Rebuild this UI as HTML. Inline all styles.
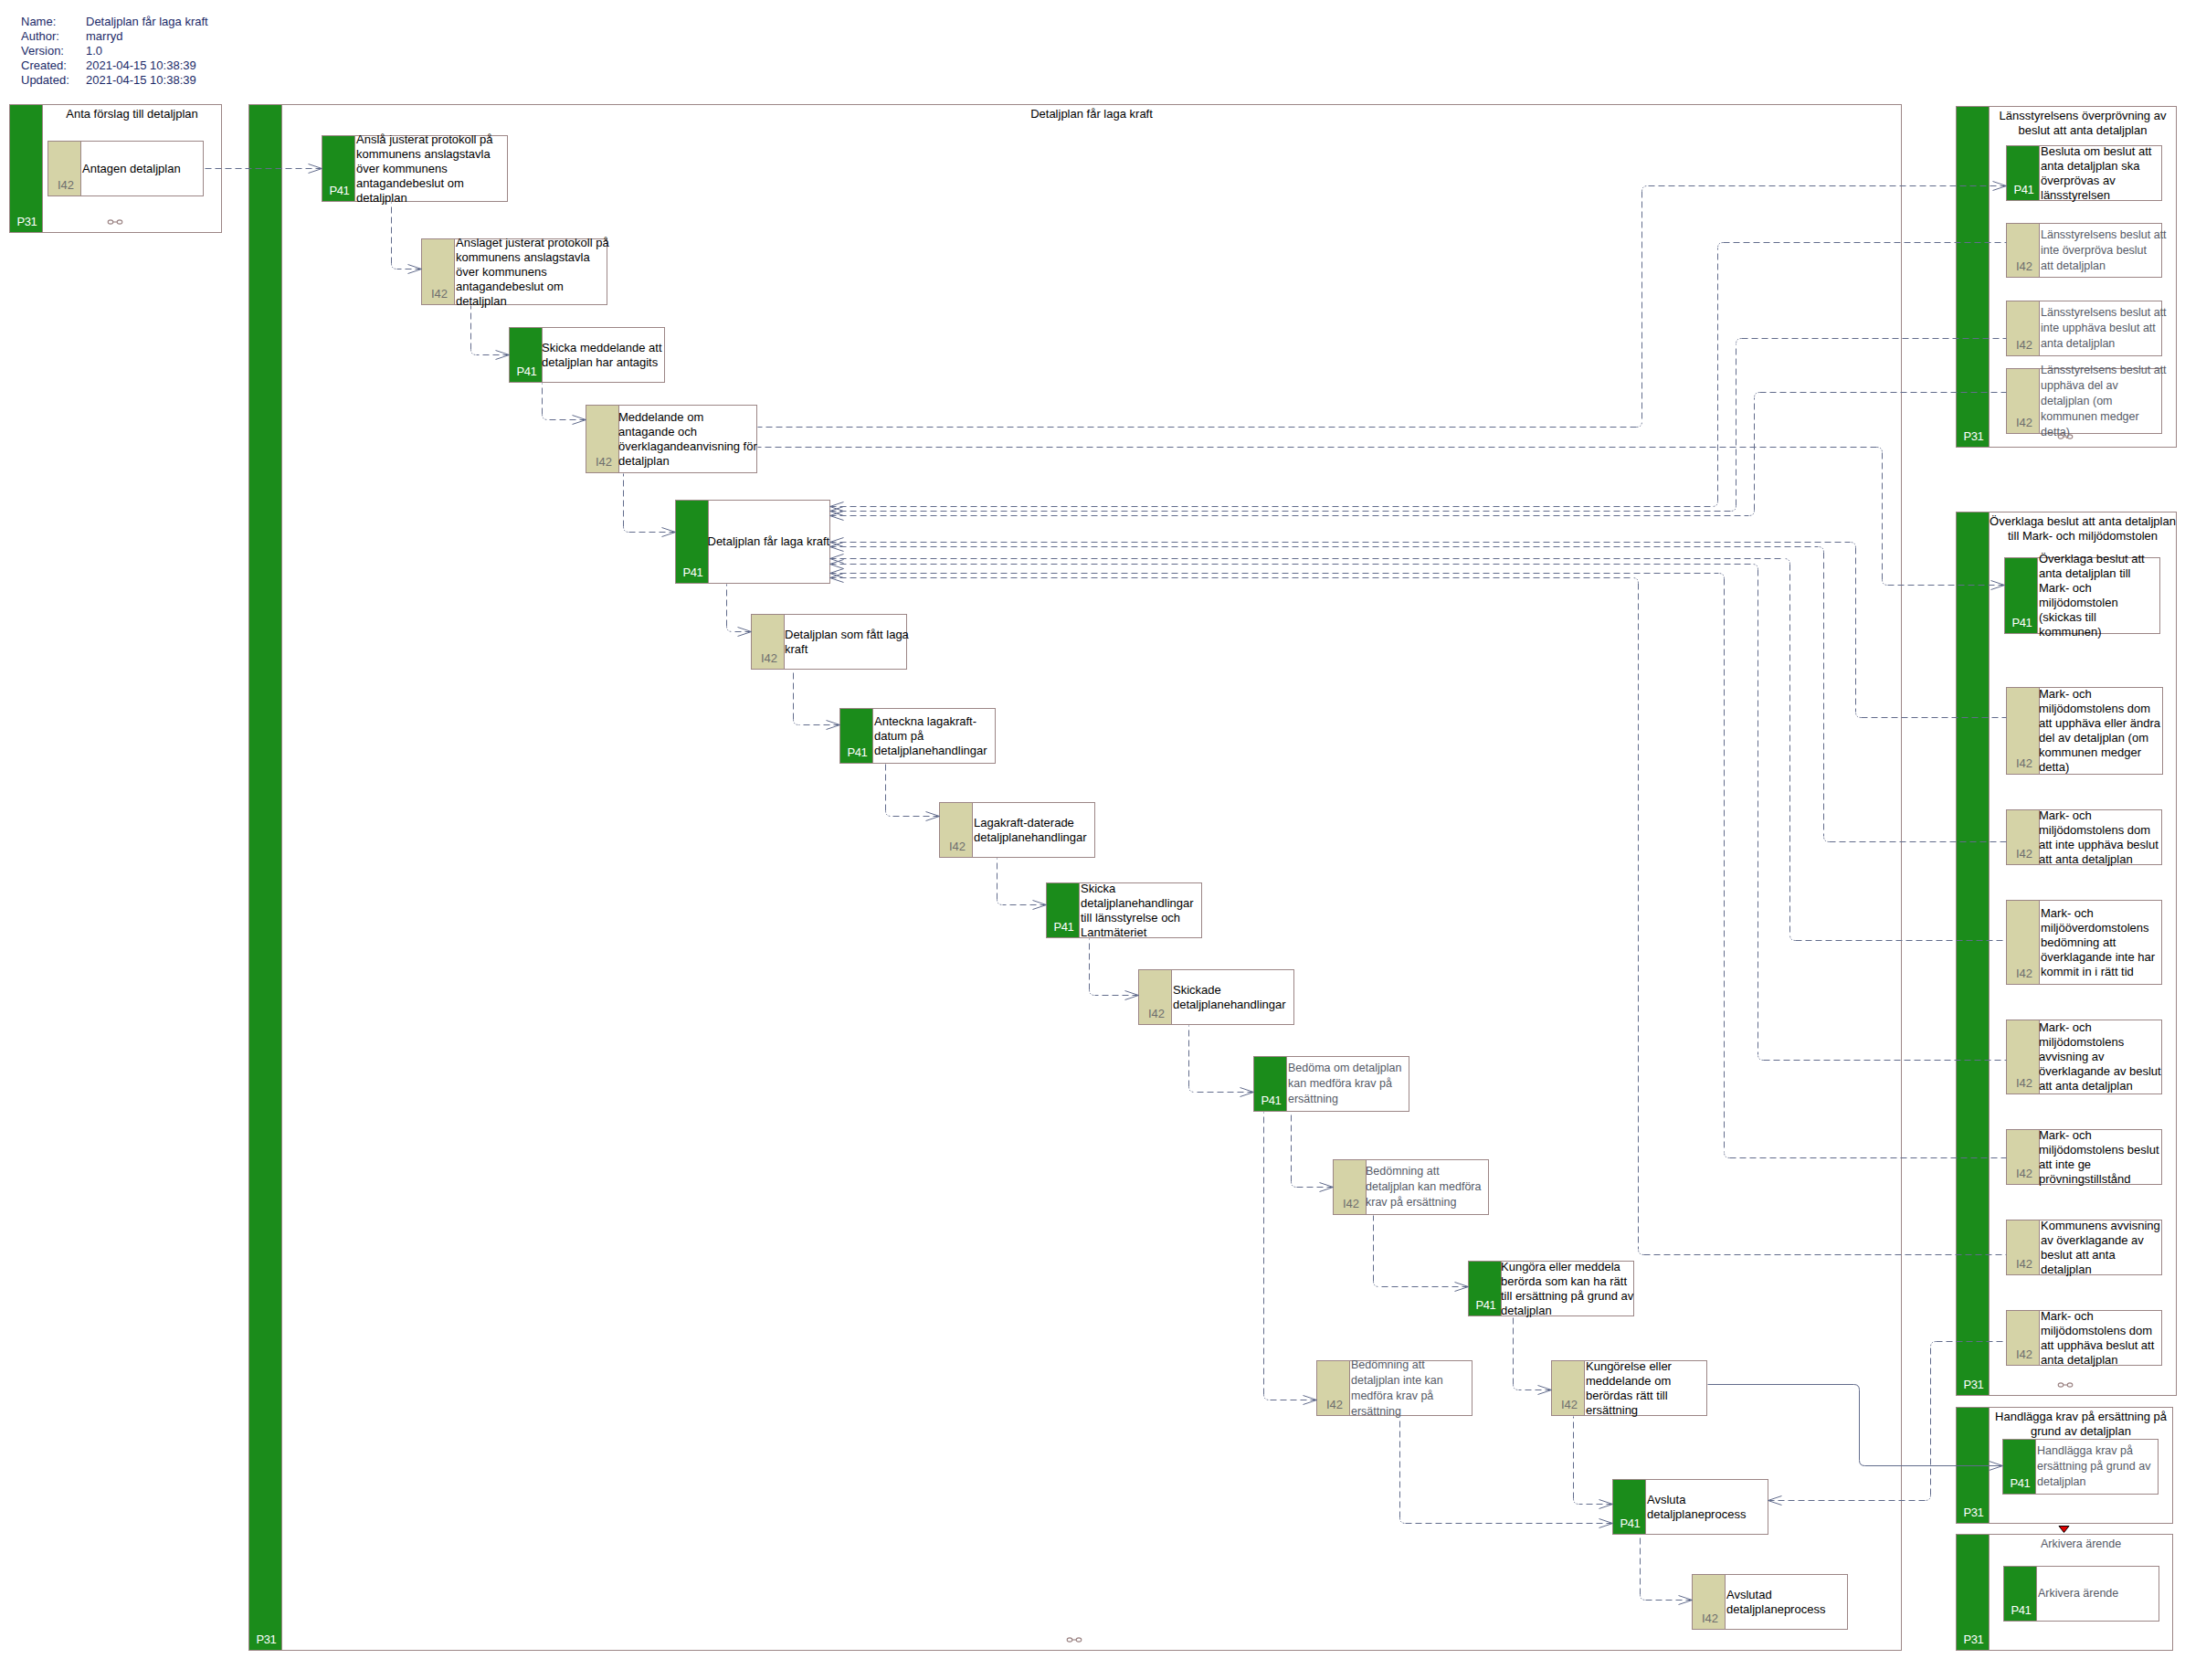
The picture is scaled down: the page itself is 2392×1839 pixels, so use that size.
<!DOCTYPE html><html><head><meta charset="utf-8"><style>
html,body{margin:0;padding:0;background:#fff;}
body{width:2392px;height:1839px;position:relative;overflow:hidden;font-family:"Liberation Sans",sans-serif;font-size:13px;color:#000;}
.a{position:absolute;}
.ct{position:absolute;box-sizing:border-box;border:1px solid #9c8686;background:#fff;}
.bar{position:absolute;left:0;top:0;bottom:0;width:36px;box-sizing:border-box;border-right:1px solid #9c8686;}
.g{background:#1b8c1b;}
.k{background:#d5d3a7;}
.tx{position:absolute;top:0;bottom:0;right:-200px;display:flex;align-items:center;white-space:pre;line-height:16px;font-size:13px;color:#000;}
.tx.c{font-size:12.5px;line-height:17px;color:#555a66;}
.ttl{position:absolute;left:36px;right:0;text-align:center;white-space:pre;line-height:16px;}
.ttl.c{font-size:12.5px;line-height:17px;color:#555a66;}
.lw{position:absolute;color:#fff;line-height:16px;white-space:pre;}
.lg{position:absolute;color:#6e6e6e;line-height:16px;white-space:pre;}
.hd{position:absolute;line-height:16px;color:#1b2a68;white-space:pre;}

</style></head><body>
<div class="hd" style="left:23px;top:16px">Name:</div>
<div class="hd" style="left:94px;top:16px">Detaljplan får laga kraft</div>
<div class="hd" style="left:23px;top:32px">Author:</div>
<div class="hd" style="left:94px;top:32px">marryd</div>
<div class="hd" style="left:23px;top:48px">Version:</div>
<div class="hd" style="left:94px;top:48px">1.0</div>
<div class="hd" style="left:23px;top:64px">Created:</div>
<div class="hd" style="left:94px;top:64px">2021-04-15 10:38:39</div>
<div class="hd" style="left:23px;top:80px">Updated:</div>
<div class="hd" style="left:94px;top:80px">2021-04-15 10:38:39</div>
<div class="ct" style="left:10px;top:114px;width:233px;height:141px">
<div class="bar g"></div>
<div class="ttl" style="top:2px">Anta förslag till detaljplan</div>
<div class="lw" style="left:7.5px;top:120px;letter-spacing:-0.5px">P31</div>
</div>
<div class="ct" style="left:272px;top:114px;width:1810px;height:1693px">
<div class="bar g"></div>
<div class="ttl" style="top:2px">Detaljplan får laga kraft</div>
<div class="lw" style="left:7.5px;top:1672px;letter-spacing:-0.5px">P31</div>
</div>
<div class="ct" style="left:2141px;top:116px;width:242px;height:374px">
<div class="bar g"></div>
<div class="ttl" style="top:2px">Länsstyrelsens överprövning av
beslut att anta detaljplan</div>
<div class="lw" style="left:7.5px;top:353px;letter-spacing:-0.5px">P31</div>
</div>
<div class="ct" style="left:2141px;top:560px;width:242px;height:968px">
<div class="bar g"></div>
<div class="ttl" style="top:2px">Överklaga beslut att anta detaljplan
till Mark- och miljödomstolen</div>
<div class="lw" style="left:7.5px;top:947px;letter-spacing:-0.5px">P31</div>
</div>
<div class="ct" style="left:2141px;top:1540px;width:238px;height:128px">
<div class="bar g"></div>
<div class="ttl" style="top:2px">Handlägga krav på ersättning på
grund av detaljplan</div>
<div class="lw" style="left:7.5px;top:107px;letter-spacing:-0.5px">P31</div>
</div>
<div class="ct" style="left:2141px;top:1679px;width:238px;height:128px">
<div class="bar g"></div>
<div class="ttl c" style="top:2px">Arkivera ärende</div>
<div class="lw" style="left:7.5px;top:107px;letter-spacing:-0.5px">P31</div>
</div>
<div class="ct" style="left:52px;top:154px;width:171px;height:61px">
<div class="bar k"></div>
<div class="lg" style="left:10px;top:40px">I42</div>
<div class="tx" style="left:37.0px"><div>Antagen detaljplan</div></div>
</div>
<div class="ct" style="left:352px;top:148px;width:204px;height:73px">
<div class="bar g"></div>
<div class="lw" style="left:7.5px;top:52px;letter-spacing:-0.5px">P41</div>
<div class="tx" style="left:37.0px"><div>Anslå justerat protokoll på
kommunens anslagstavla
över kommunens
antagandebeslut om
detaljplan</div></div>
</div>
<div class="ct" style="left:461px;top:261px;width:204px;height:73px">
<div class="bar k"></div>
<div class="lg" style="left:10px;top:52px">I42</div>
<div class="tx" style="left:37.0px"><div>Anslaget justerat protokoll på
kommunens anslagstavla
över kommunens
antagandebeslut om
detaljplan</div></div>
</div>
<div class="ct" style="left:557px;top:358px;width:171px;height:61px">
<div class="bar g"></div>
<div class="lw" style="left:7.5px;top:40px;letter-spacing:-0.5px">P41</div>
<div class="tx" style="left:35.0px"><div>Skicka meddelande att
detaljplan har antagits</div></div>
</div>
<div class="ct" style="left:641px;top:443px;width:188px;height:75px">
<div class="bar k"></div>
<div class="lg" style="left:10px;top:54px">I42</div>
<div class="tx" style="left:35.0px"><div>Meddelande om
antagande och
överklagandeanvisning för
detaljplan</div></div>
</div>
<div class="ct" style="left:739px;top:547px;width:170px;height:92px">
<div class="bar g"></div>
<div class="lw" style="left:7.5px;top:71px;letter-spacing:-0.5px">P41</div>
<div class="tx" style="left:34.5px"><div>Detaljplan får laga kraft</div></div>
</div>
<div class="ct" style="left:822px;top:672px;width:171px;height:61px">
<div class="bar k"></div>
<div class="lg" style="left:10px;top:40px">I42</div>
<div class="tx" style="left:36.0px"><div>Detaljplan som fått laga
kraft</div></div>
</div>
<div class="ct" style="left:919px;top:775px;width:171px;height:61px">
<div class="bar g"></div>
<div class="lw" style="left:7.5px;top:40px;letter-spacing:-0.5px">P41</div>
<div class="tx" style="left:37.0px"><div>Anteckna lagakraft-
datum på
detaljplanehandlingar</div></div>
</div>
<div class="ct" style="left:1028px;top:878px;width:171px;height:61px">
<div class="bar k"></div>
<div class="lg" style="left:10px;top:40px">I42</div>
<div class="tx" style="left:37.0px"><div>Lagakraft-daterade
detaljplanehandlingar</div></div>
</div>
<div class="ct" style="left:1145px;top:966px;width:171px;height:61px">
<div class="bar g"></div>
<div class="lw" style="left:7.5px;top:40px;letter-spacing:-0.5px">P41</div>
<div class="tx" style="left:37.0px"><div>Skicka
detaljplanehandlingar
till länsstyrelse och
Lantmäteriet</div></div>
</div>
<div class="ct" style="left:1246px;top:1061px;width:171px;height:61px">
<div class="bar k"></div>
<div class="lg" style="left:10px;top:40px">I42</div>
<div class="tx" style="left:37.0px"><div>Skickade
detaljplanehandlingar</div></div>
</div>
<div class="ct" style="left:1372px;top:1156px;width:171px;height:61px">
<div class="bar g"></div>
<div class="lw" style="left:7.5px;top:40px;letter-spacing:-0.5px">P41</div>
<div class="tx c" style="left:37.0px"><div>Bedöma om detaljplan
kan medföra krav på
ersättning</div></div>
</div>
<div class="ct" style="left:1459px;top:1269px;width:171px;height:61px">
<div class="bar k"></div>
<div class="lg" style="left:10px;top:40px">I42</div>
<div class="tx c" style="left:35.0px"><div>Bedömning att
detaljplan kan medföra
krav på ersättning</div></div>
</div>
<div class="ct" style="left:1607px;top:1380px;width:182px;height:61px">
<div class="bar g"></div>
<div class="lw" style="left:7.5px;top:40px;letter-spacing:-0.5px">P41</div>
<div class="tx" style="left:35.0px"><div>Kungöra eller meddela
berörda som kan ha rätt
till ersättning på grund av
detaljplan</div></div>
</div>
<div class="ct" style="left:1698px;top:1489px;width:171px;height:61px">
<div class="bar k"></div>
<div class="lg" style="left:10px;top:40px">I42</div>
<div class="tx" style="left:37.0px"><div>Kungörelse eller
meddelande om
berördas rätt till
ersättning</div></div>
</div>
<div class="ct" style="left:1765px;top:1619px;width:171px;height:61px">
<div class="bar g"></div>
<div class="lw" style="left:7.5px;top:40px;letter-spacing:-0.5px">P41</div>
<div class="tx" style="left:37.0px"><div>Avsluta
detaljplaneprocess</div></div>
</div>
<div class="ct" style="left:1441px;top:1489px;width:171px;height:61px">
<div class="bar k"></div>
<div class="lg" style="left:10px;top:40px">I42</div>
<div class="tx c" style="left:37.0px"><div>Bedömning att
detaljplan inte kan
medföra krav på
ersättning</div></div>
</div>
<div class="ct" style="left:1852px;top:1723px;width:171px;height:61px">
<div class="bar k"></div>
<div class="lg" style="left:10px;top:40px">I42</div>
<div class="tx" style="left:37.0px"><div>Avslutad
detaljplaneprocess</div></div>
</div>
<div class="ct" style="left:2196px;top:159px;width:171px;height:61px">
<div class="bar g"></div>
<div class="lw" style="left:7.5px;top:40px;letter-spacing:-0.5px">P41</div>
<div class="tx" style="left:37.0px"><div>Besluta om beslut att
anta detaljplan ska
överprövas av
länsstyrelsen</div></div>
</div>
<div class="ct" style="left:2196px;top:244px;width:171px;height:60px">
<div class="bar k"></div>
<div class="lg" style="left:10px;top:39px">I42</div>
<div class="tx c" style="left:37.0px"><div>Länsstyrelsens beslut att
inte överpröva beslut
att detaljplan</div></div>
</div>
<div class="ct" style="left:2196px;top:329px;width:171px;height:61px">
<div class="bar k"></div>
<div class="lg" style="left:10px;top:40px">I42</div>
<div class="tx c" style="left:37.0px"><div>Länsstyrelsens beslut att
inte upphäva beslut att
anta detaljplan</div></div>
</div>
<div class="ct" style="left:2196px;top:403px;width:171px;height:72px">
<div class="bar k"></div>
<div class="lg" style="left:10px;top:51px">I42</div>
<div class="tx c" style="left:37.0px"><div>Länsstyrelsens beslut att
upphäva del av
detaljplan (om
kommunen medger
detta)</div></div>
</div>
<div class="ct" style="left:2194px;top:610px;width:171px;height:84px">
<div class="bar g"></div>
<div class="lw" style="left:7.5px;top:63px;letter-spacing:-0.5px">P41</div>
<div class="tx" style="left:37.0px"><div>Överklaga beslut att
anta detaljplan till
Mark- och
miljödomstolen
(skickas till
kommunen)</div></div>
</div>
<div class="ct" style="left:2196px;top:752px;width:172px;height:96px">
<div class="bar k"></div>
<div class="lg" style="left:10px;top:75px">I42</div>
<div class="tx" style="left:35.0px"><div>Mark- och
miljödomstolens dom
att upphäva eller ändra
del av detaljplan (om
kommunen medger
detta)</div></div>
</div>
<div class="ct" style="left:2196px;top:886px;width:171px;height:61px">
<div class="bar k"></div>
<div class="lg" style="left:10px;top:40px">I42</div>
<div class="tx" style="left:35.0px"><div>Mark- och
miljödomstolens dom
att inte upphäva beslut
att anta detaljplan</div></div>
</div>
<div class="ct" style="left:2196px;top:985px;width:171px;height:93px">
<div class="bar k"></div>
<div class="lg" style="left:10px;top:72px">I42</div>
<div class="tx" style="left:37.0px"><div>Mark- och
miljööverdomstolens
bedömning att
överklagande inte har
kommit in i rätt tid</div></div>
</div>
<div class="ct" style="left:2196px;top:1116px;width:171px;height:82px">
<div class="bar k"></div>
<div class="lg" style="left:10px;top:61px">I42</div>
<div class="tx" style="left:35.0px"><div>Mark- och
miljödomstolens
avvisning av
överklagande av beslut
att anta detaljplan</div></div>
</div>
<div class="ct" style="left:2196px;top:1236px;width:171px;height:61px">
<div class="bar k"></div>
<div class="lg" style="left:10px;top:40px">I42</div>
<div class="tx" style="left:35.0px"><div>Mark- och
miljödomstolens beslut
att inte ge
prövningstillstånd</div></div>
</div>
<div class="ct" style="left:2196px;top:1335px;width:171px;height:61px">
<div class="bar k"></div>
<div class="lg" style="left:10px;top:40px">I42</div>
<div class="tx" style="left:37.0px"><div>Kommunens avvisning
av överklagande av
beslut att anta
detaljplan</div></div>
</div>
<div class="ct" style="left:2196px;top:1434px;width:171px;height:61px">
<div class="bar k"></div>
<div class="lg" style="left:10px;top:40px">I42</div>
<div class="tx" style="left:37.0px"><div>Mark- och
miljödomstolens dom
att upphäva beslut att
anta detaljplan</div></div>
</div>
<div class="ct" style="left:2192px;top:1575px;width:171px;height:61px">
<div class="bar g"></div>
<div class="lw" style="left:7.5px;top:40px;letter-spacing:-0.5px">P41</div>
<div class="tx c" style="left:37.0px"><div>Handlägga krav på
ersättning på grund av
detaljplan</div></div>
</div>
<div class="ct" style="left:2193px;top:1714px;width:171px;height:61px">
<div class="bar g"></div>
<div class="lw" style="left:7.5px;top:40px;letter-spacing:-0.5px">P41</div>
<div class="tx c" style="left:37.0px"><div>Arkivera ärende</div></div>
</div>
<svg class="a" style="left:0;top:0" width="2392" height="1839">
<g fill="none" stroke="#626c8c" stroke-width="1">
<path d="M352.5 184.5L224.5 184.5" stroke-dasharray="7 4"/>
<path d="M337.5 179.5 L352.5 184.5 L337.5 189.5"/>
<path d="M461.5 294.5L434.5 294.5" stroke-dasharray="7 4"/>
<path d="M428.5 288.5L428.5 221.5" stroke-dasharray="7 4"/>
<path d="M434.5 294.5Q428.5 294.5 428.5 288.5" stroke-dasharray="1.6 1.8" stroke-dashoffset="-1"/>
<path d="M446.5 289.5 L461.5 294.5 L446.5 299.5"/>
<path d="M557.5 388.5L521.5 388.5" stroke-dasharray="7 4"/>
<path d="M515.5 382.5L515.5 334.5" stroke-dasharray="7 4"/>
<path d="M521.5 388.5Q515.5 388.5 515.5 382.5" stroke-dasharray="1.6 1.8" stroke-dashoffset="-1"/>
<path d="M542.5 383.5 L557.5 388.5 L542.5 393.5"/>
<path d="M641.5 459.5L599.5 459.5" stroke-dasharray="7 4"/>
<path d="M593.5 453.5L593.5 419.5" stroke-dasharray="7 4"/>
<path d="M599.5 459.5Q593.5 459.5 593.5 453.5" stroke-dasharray="1.6 1.8" stroke-dashoffset="-1"/>
<path d="M626.5 454.5 L641.5 459.5 L626.5 464.5"/>
<path d="M739.5 582.5L688.5 582.5" stroke-dasharray="7 4"/>
<path d="M682.5 576.5L682.5 518.5" stroke-dasharray="7 4"/>
<path d="M688.5 582.5Q682.5 582.5 682.5 576.5" stroke-dasharray="1.6 1.8" stroke-dashoffset="-1"/>
<path d="M724.5 577.5 L739.5 582.5 L724.5 587.5"/>
<path d="M822.5 691.5L801.5 691.5" stroke-dasharray="7 4"/>
<path d="M795.5 685.5L795.5 639.5" stroke-dasharray="7 4"/>
<path d="M801.5 691.5Q795.5 691.5 795.5 685.5" stroke-dasharray="1.6 1.8" stroke-dashoffset="-1"/>
<path d="M807.5 686.5 L822.5 691.5 L807.5 696.5"/>
<path d="M919.5 793.5L874.5 793.5" stroke-dasharray="7 4"/>
<path d="M868.5 787.5L868.5 734.5" stroke-dasharray="7 4"/>
<path d="M874.5 793.5Q868.5 793.5 868.5 787.5" stroke-dasharray="1.6 1.8" stroke-dashoffset="-1"/>
<path d="M904.5 788.5 L919.5 793.5 L904.5 798.5"/>
<path d="M1028.5 893.5L975.5 893.5" stroke-dasharray="7 4"/>
<path d="M969.5 887.5L969.5 836.5" stroke-dasharray="7 4"/>
<path d="M975.5 893.5Q969.5 893.5 969.5 887.5" stroke-dasharray="1.6 1.8" stroke-dashoffset="-1"/>
<path d="M1013.5 888.5 L1028.5 893.5 L1013.5 898.5"/>
<path d="M1145.5 990.5L1097.5 990.5" stroke-dasharray="7 4"/>
<path d="M1091.5 984.5L1091.5 939.5" stroke-dasharray="7 4"/>
<path d="M1097.5 990.5Q1091.5 990.5 1091.5 984.5" stroke-dasharray="1.6 1.8" stroke-dashoffset="-1"/>
<path d="M1130.5 985.5 L1145.5 990.5 L1130.5 995.5"/>
<path d="M1246.5 1089.5L1198.5 1089.5" stroke-dasharray="7 4"/>
<path d="M1192.5 1083.5L1192.5 1027.5" stroke-dasharray="7 4"/>
<path d="M1198.5 1089.5Q1192.5 1089.5 1192.5 1083.5" stroke-dasharray="1.6 1.8" stroke-dashoffset="-1"/>
<path d="M1231.5 1084.5 L1246.5 1089.5 L1231.5 1094.5"/>
<path d="M1372.5 1195.5L1307.5 1195.5" stroke-dasharray="7 4"/>
<path d="M1301.5 1189.5L1301.5 1122.5" stroke-dasharray="7 4"/>
<path d="M1307.5 1195.5Q1301.5 1195.5 1301.5 1189.5" stroke-dasharray="1.6 1.8" stroke-dashoffset="-1"/>
<path d="M1357.5 1190.5 L1372.5 1195.5 L1357.5 1200.5"/>
<path d="M1459.5 1299.5L1419.5 1299.5" stroke-dasharray="7 4"/>
<path d="M1413.5 1293.5L1413.5 1219.5" stroke-dasharray="7 4"/>
<path d="M1419.5 1299.5Q1413.5 1299.5 1413.5 1293.5" stroke-dasharray="1.6 1.8" stroke-dashoffset="-1"/>
<path d="M1444.5 1294.5 L1459.5 1299.5 L1444.5 1304.5"/>
<path d="M1441.5 1532.5L1389.5 1532.5" stroke-dasharray="7 4"/>
<path d="M1383.5 1526.5L1383.5 1217.5" stroke-dasharray="7 4"/>
<path d="M1389.5 1532.5Q1383.5 1532.5 1383.5 1526.5" stroke-dasharray="1.6 1.8" stroke-dashoffset="-1"/>
<path d="M1426.5 1527.5 L1441.5 1532.5 L1426.5 1537.5"/>
<path d="M1607.5 1408.5L1509.5 1408.5" stroke-dasharray="7 4"/>
<path d="M1503.5 1402.5L1503.5 1330.5" stroke-dasharray="7 4"/>
<path d="M1509.5 1408.5Q1503.5 1408.5 1503.5 1402.5" stroke-dasharray="1.6 1.8" stroke-dashoffset="-1"/>
<path d="M1592.5 1403.5 L1607.5 1408.5 L1592.5 1413.5"/>
<path d="M1698.5 1521.5L1662.5 1521.5" stroke-dasharray="7 4"/>
<path d="M1656.5 1515.5L1656.5 1441.5" stroke-dasharray="7 4"/>
<path d="M1662.5 1521.5Q1656.5 1521.5 1656.5 1515.5" stroke-dasharray="1.6 1.8" stroke-dashoffset="-1"/>
<path d="M1683.5 1516.5 L1698.5 1521.5 L1683.5 1526.5"/>
<path d="M1765.5 1646.5L1728.5 1646.5" stroke-dasharray="7 4"/>
<path d="M1722.5 1640.5L1722.5 1550.5" stroke-dasharray="7 4"/>
<path d="M1728.5 1646.5Q1722.5 1646.5 1722.5 1640.5" stroke-dasharray="1.6 1.8" stroke-dashoffset="-1"/>
<path d="M1750.5 1641.5 L1765.5 1646.5 L1750.5 1651.5"/>
<path d="M1765.5 1667.5L1538.5 1667.5" stroke-dasharray="7 4"/>
<path d="M1532.5 1661.5L1532.5 1551.5" stroke-dasharray="7 4"/>
<path d="M1538.5 1667.5Q1532.5 1667.5 1532.5 1661.5" stroke-dasharray="1.6 1.8" stroke-dashoffset="-1"/>
<path d="M1750.5 1662.5 L1765.5 1667.5 L1750.5 1672.5"/>
<path d="M1852.5 1751.5L1801.5 1751.5" stroke-dasharray="7 4"/>
<path d="M1795.5 1745.5L1795.5 1681.5" stroke-dasharray="7 4"/>
<path d="M1801.5 1751.5Q1795.5 1751.5 1795.5 1745.5" stroke-dasharray="1.6 1.8" stroke-dashoffset="-1"/>
<path d="M1837.5 1746.5 L1852.5 1751.5 L1837.5 1756.5"/>
<path d="M2196.5 203.5L1803.5 203.5" stroke-dasharray="7 4"/>
<path d="M1797.5 209.5L1797.5 461.5" stroke-dasharray="7 4"/>
<path d="M1791.5 467.5L829.5 467.5" stroke-dasharray="7 4"/>
<path d="M1803.5 203.5Q1797.5 203.5 1797.5 209.5" stroke-dasharray="1.6 1.8" stroke-dashoffset="-1"/>
<path d="M1797.5 461.5Q1797.5 467.5 1791.5 467.5" stroke-dasharray="1.6 1.8" stroke-dashoffset="-1"/>
<path d="M2181.5 198.5 L2196.5 203.5 L2181.5 208.5"/>
<path d="M2194.5 640.5L2066.5 640.5" stroke-dasharray="7 4"/>
<path d="M2060.5 634.5L2060.5 495.5" stroke-dasharray="7 4"/>
<path d="M2054.5 489.5L829.5 489.5" stroke-dasharray="7 4"/>
<path d="M2066.5 640.5Q2060.5 640.5 2060.5 634.5" stroke-dasharray="1.6 1.8" stroke-dashoffset="-1"/>
<path d="M2060.5 495.5Q2060.5 489.5 2054.5 489.5" stroke-dasharray="1.6 1.8" stroke-dashoffset="-1"/>
<path d="M2179.5 635.5 L2194.5 640.5 L2179.5 645.5"/>
<path d="M908.5 554.5L1874.5 554.5" stroke-dasharray="7 4"/>
<path d="M1880.5 548.5L1880.5 271.5" stroke-dasharray="7 4"/>
<path d="M1886.5 265.5L2196.5 265.5" stroke-dasharray="7 4"/>
<path d="M1874.5 554.5Q1880.5 554.5 1880.5 548.5" stroke-dasharray="1.6 1.8" stroke-dashoffset="-1"/>
<path d="M1880.5 271.5Q1880.5 265.5 1886.5 265.5" stroke-dasharray="1.6 1.8" stroke-dashoffset="-1"/>
<path d="M923.5 549.5 L908.5 554.5 L923.5 559.5"/>
<path d="M908.5 559.5L1894.5 559.5" stroke-dasharray="7 4"/>
<path d="M1900.5 553.5L1900.5 376.5" stroke-dasharray="7 4"/>
<path d="M1906.5 370.5L2196.5 370.5" stroke-dasharray="7 4"/>
<path d="M1894.5 559.5Q1900.5 559.5 1900.5 553.5" stroke-dasharray="1.6 1.8" stroke-dashoffset="-1"/>
<path d="M1900.5 376.5Q1900.5 370.5 1906.5 370.5" stroke-dasharray="1.6 1.8" stroke-dashoffset="-1"/>
<path d="M923.5 554.5 L908.5 559.5 L923.5 564.5"/>
<path d="M908.5 564.5L1914.5 564.5" stroke-dasharray="7 4"/>
<path d="M1920.5 558.5L1920.5 435.5" stroke-dasharray="7 4"/>
<path d="M1926.5 429.5L2196.5 429.5" stroke-dasharray="7 4"/>
<path d="M1914.5 564.5Q1920.5 564.5 1920.5 558.5" stroke-dasharray="1.6 1.8" stroke-dashoffset="-1"/>
<path d="M1920.5 435.5Q1920.5 429.5 1926.5 429.5" stroke-dasharray="1.6 1.8" stroke-dashoffset="-1"/>
<path d="M923.5 559.5 L908.5 564.5 L923.5 569.5"/>
<path d="M908.5 593.5L2025.5 593.5" stroke-dasharray="7 4"/>
<path d="M2031.5 599.5L2031.5 779.5" stroke-dasharray="7 4"/>
<path d="M2037.5 785.5L2196.5 785.5" stroke-dasharray="7 4"/>
<path d="M2025.5 593.5Q2031.5 593.5 2031.5 599.5" stroke-dasharray="1.6 1.8" stroke-dashoffset="-1"/>
<path d="M2031.5 779.5Q2031.5 785.5 2037.5 785.5" stroke-dasharray="1.6 1.8" stroke-dashoffset="-1"/>
<path d="M923.5 588.5 L908.5 593.5 L923.5 598.5"/>
<path d="M908.5 598.5L1990.5 598.5" stroke-dasharray="7 4"/>
<path d="M1996.5 604.5L1996.5 915.5" stroke-dasharray="7 4"/>
<path d="M2002.5 921.5L2196.5 921.5" stroke-dasharray="7 4"/>
<path d="M1990.5 598.5Q1996.5 598.5 1996.5 604.5" stroke-dasharray="1.6 1.8" stroke-dashoffset="-1"/>
<path d="M1996.5 915.5Q1996.5 921.5 2002.5 921.5" stroke-dasharray="1.6 1.8" stroke-dashoffset="-1"/>
<path d="M923.5 593.5 L908.5 598.5 L923.5 603.5"/>
<path d="M908.5 611.5L1953.5 611.5" stroke-dasharray="7 4"/>
<path d="M1959.5 617.5L1959.5 1023.5" stroke-dasharray="7 4"/>
<path d="M1965.5 1029.5L2196.5 1029.5" stroke-dasharray="7 4"/>
<path d="M1953.5 611.5Q1959.5 611.5 1959.5 617.5" stroke-dasharray="1.6 1.8" stroke-dashoffset="-1"/>
<path d="M1959.5 1023.5Q1959.5 1029.5 1965.5 1029.5" stroke-dasharray="1.6 1.8" stroke-dashoffset="-1"/>
<path d="M923.5 606.5 L908.5 611.5 L923.5 616.5"/>
<path d="M908.5 617.5L1918.5 617.5" stroke-dasharray="7 4"/>
<path d="M1924.5 623.5L1924.5 1154.5" stroke-dasharray="7 4"/>
<path d="M1930.5 1160.5L2196.5 1160.5" stroke-dasharray="7 4"/>
<path d="M1918.5 617.5Q1924.5 617.5 1924.5 623.5" stroke-dasharray="1.6 1.8" stroke-dashoffset="-1"/>
<path d="M1924.5 1154.5Q1924.5 1160.5 1930.5 1160.5" stroke-dasharray="1.6 1.8" stroke-dashoffset="-1"/>
<path d="M923.5 612.5 L908.5 617.5 L923.5 622.5"/>
<path d="M908.5 627.5L1881.5 627.5" stroke-dasharray="7 4"/>
<path d="M1887.5 633.5L1887.5 1261.5" stroke-dasharray="7 4"/>
<path d="M1893.5 1267.5L2196.5 1267.5" stroke-dasharray="7 4"/>
<path d="M1881.5 627.5Q1887.5 627.5 1887.5 633.5" stroke-dasharray="1.6 1.8" stroke-dashoffset="-1"/>
<path d="M1887.5 1261.5Q1887.5 1267.5 1893.5 1267.5" stroke-dasharray="1.6 1.8" stroke-dashoffset="-1"/>
<path d="M923.5 622.5 L908.5 627.5 L923.5 632.5"/>
<path d="M908.5 632.5L1787.5 632.5" stroke-dasharray="7 4"/>
<path d="M1793.5 638.5L1793.5 1367.5" stroke-dasharray="7 4"/>
<path d="M1799.5 1373.5L2196.5 1373.5" stroke-dasharray="7 4"/>
<path d="M1787.5 632.5Q1793.5 632.5 1793.5 638.5" stroke-dasharray="1.6 1.8" stroke-dashoffset="-1"/>
<path d="M1793.5 1367.5Q1793.5 1373.5 1799.5 1373.5" stroke-dasharray="1.6 1.8" stroke-dashoffset="-1"/>
<path d="M923.5 627.5 L908.5 632.5 L923.5 637.5"/>
<path d="M1935.5 1642.5L2107.5 1642.5" stroke-dasharray="7 4"/>
<path d="M2113.5 1636.5L2113.5 1474.5" stroke-dasharray="7 4"/>
<path d="M2119.5 1468.5L2193.5 1468.5" stroke-dasharray="7 4"/>
<path d="M2107.5 1642.5Q2113.5 1642.5 2113.5 1636.5" stroke-dasharray="1.6 1.8" stroke-dashoffset="-1"/>
<path d="M2113.5 1474.5Q2113.5 1468.5 2119.5 1468.5" stroke-dasharray="1.6 1.8" stroke-dashoffset="-1"/>
<path d="M1950.5 1637.5 L1935.5 1642.5 L1950.5 1647.5"/>
<path d="M2192.5 1604.5 L2041.5 1604.5 Q2035.5 1604.5 2035.5 1598.5 L2035.5 1521.5 Q2035.5 1515.5 2029.5 1515.5 L1869.5 1515.5"/>
<path d="M2177.5 1599.5 L2192.5 1604.5 L2177.5 1609.5"/>
</g>
<g fill="none" stroke="#9a8282" stroke-width="1.1"><ellipse cx="121.0" cy="243.0" rx="2.8" ry="2.1"/><ellipse cx="131.0" cy="243.0" rx="2.8" ry="2.1"/><path d="M123.8 243.0 L128.2 243.0"/></g>
<g fill="none" stroke="#9a8282" stroke-width="1.1"><ellipse cx="1171.0" cy="1795.0" rx="2.8" ry="2.1"/><ellipse cx="1181.0" cy="1795.0" rx="2.8" ry="2.1"/><path d="M1173.8 1795.0 L1178.2 1795.0"/></g>
<g fill="none" stroke="#9a8282" stroke-width="1.1"><ellipse cx="2256.0" cy="478.0" rx="2.8" ry="2.1"/><ellipse cx="2266.0" cy="478.0" rx="2.8" ry="2.1"/><path d="M2258.8 478.0 L2263.2 478.0"/></g>
<g fill="none" stroke="#9a8282" stroke-width="1.1"><ellipse cx="2256.0" cy="1516.0" rx="2.8" ry="2.1"/><ellipse cx="2266.0" cy="1516.0" rx="2.8" ry="2.1"/><path d="M2258.8 1516.0 L2263.2 1516.0"/></g>
<path d="M2254 1670.5 L2265 1670.5 L2259.5 1677.5 Z" fill="#e00000" stroke="#000" stroke-width="1"/>
</svg>
</body></html>
